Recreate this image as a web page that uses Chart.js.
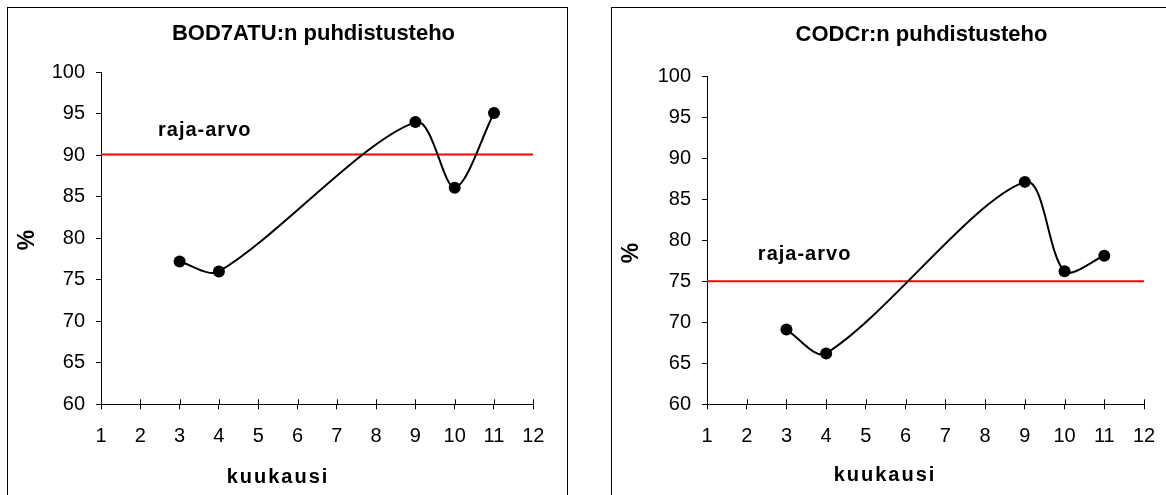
<!DOCTYPE html>
<html>
<head>
<meta charset="utf-8">
<script src="https://cdn.jsdelivr.net/npm/chart.js@4"></script>
<style>
body{margin:0;background:#fff;overflow:hidden;width:1166px;height:495px;position:relative}
.panel{position:absolute;top:7px;border:1px solid #000;border-bottom:none;background:#fff}
#leftPanel{left:7px}
#rightPanel{left:611px}
canvas{display:block}
</style>
</head>
<body>
<div class="panel" id="leftPanel"><canvas id="bodChart" width="559" height="488"></canvas></div>
<div class="panel" id="rightPanel"><canvas id="codChart" width="560" height="488"></canvas></div>
<script>
const months = [3, 4, 9, 10, 11];
const bodValues = [77.2, 76.0, 94.0, 86.1, 95.1];
const codValues = [69.1, 66.2, 87.1, 76.2, 78.1];
const bodLimit = 90.1;
const codLimit = 75;
const monthRange = [1, 12];
const percentRange = [60, 100];

const FONT = '"Liberation Sans", Arial, sans-serif';

// titles, axis titles, limit label and the inner half of the x tick crosses
function textPlugin(t) {
  return {
    id: 'texts',
    afterDraw(chart) {
      const ctx = chart.ctx, xs = chart.scales.x, ys = chart.scales.y, a = chart.chartArea;
      ctx.save();
      ctx.strokeStyle = '#000';
      ctx.lineWidth = 1;
      ctx.beginPath();
      xs.ticks.forEach(tk => {
        const px = Math.round(xs.getPixelForValue(tk.value)) + 0.5;
        ctx.moveTo(px, a.bottom - 5);
        ctx.lineTo(px, a.bottom);
      });
      ctx.stroke();

      ctx.fillStyle = '#000';
      ctx.textBaseline = 'middle';
      ctx.textAlign = 'center';
      ctx.font = 'bold 22px ' + FONT;
      ctx.fillText(t.title, t.titleX, t.titleY);

      ctx.font = 'bold 20px ' + FONT;
      ctx.letterSpacing = '2px';
      ctx.fillText(t.xTitle, t.xTitleX, t.xTitleY);

      ctx.letterSpacing = '1px';
      ctx.textAlign = 'left';
      ctx.fillText(t.limitText, xs.getPixelForValue(t.limitAt[0]), ys.getPixelForValue(t.limitAt[1]));

      ctx.letterSpacing = '0px';
      ctx.textAlign = 'center';
      ctx.font = 'bold 23px ' + FONT;
      ctx.translate(t.yTitleX, t.yTitleY);
      ctx.rotate(-Math.PI / 2);
      ctx.fillText(t.yTitle, 0, 0);
      ctx.restore();
    }
  };
}

function makeChart(id, values, limit, box, texts) {
  const ctx = document.getElementById(id).getContext('2d');
  return new Chart(ctx, {
    type: 'line',
    data: {
      datasets: [{
        data: months.map((m, i) => ({x: m, y: values[i]})),
        borderColor: '#000',
        borderWidth: 2,
        pointRadius: 6,
        pointBackgroundColor: '#000',
        pointBorderColor: '#000',
        pointBorderWidth: 0,
        tension: 0.3,
        fill: false
      }, {
        data: monthRange.map(m => ({x: m, y: limit})),
        borderColor: '#ff0000',
        borderWidth: 2,
        pointRadius: 0,
        tension: 0,
        fill: false
      }]
    },
    options: {
      responsive: false,
      animation: false,
      layout: {padding: {left: 0, bottom: 0, right: box.right, top: box.top}},
      scales: {
        x: {
          type: 'linear',
          min: monthRange[0],
          max: monthRange[1],
          afterFit(s) { s.height = box.xHeight; },
          border: {color: '#000', width: 1},
          grid: {drawOnChartArea: false, drawTicks: true, tickLength: 5, color: '#000'},
          ticks: {stepSize: 1, padding: 15, color: '#000', font: {size: 20, family: FONT}}
        },
        y: {
          type: 'linear',
          min: percentRange[0],
          max: percentRange[1],
          afterFit(s) { s.width = box.yWidth; },
          border: {color: '#000', width: 1},
          grid: {drawOnChartArea: false, drawTicks: true, tickLength: 5, color: '#000'},
          ticks: {stepSize: 5, padding: 11, color: '#000', font: {size: 20, family: FONT}}
        }
      },
      plugins: {
        legend: {display: false},
        title: {display: false},
        tooltip: {enabled: false}
      }
    },
    plugins: [textPlugin(texts)]
  });
}

makeChart('bodChart', bodValues, bodLimit,
  {yWidth: 93, right: 33.7, top: 64.3, xHeight: 91.7},
  {title: 'BOD7ATU:n puhdistusteho', titleX: 305.5, titleY: 26,
   xTitle: 'kuukausi', xTitleX: 270, xTitleY: 469,
   yTitle: '%', yTitleX: 20, yTitleY: 232,
   limitText: 'raja-arvo', limitAt: [2.45, 93.0]});

makeChart('codChart', codValues, codLimit,
  {yWidth: 95, right: 28, top: 68, xHeight: 91.7},
  {title: 'CODCr:n puhdistusteho', titleX: 309.5, titleY: 27,
   xTitle: 'kuukausi', xTitleX: 273, xTitleY: 467,
   yTitle: '%', yTitleX: 20, yTitleY: 245,
   limitText: 'raja-arvo', limitAt: [2.28, 78.2]});
</script>
</body>
</html>
